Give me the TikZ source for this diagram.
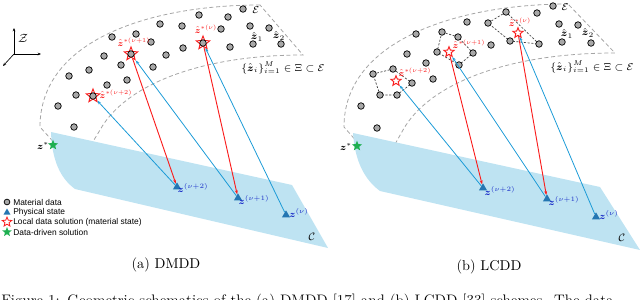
\RequirePackage{fix-cm}
\documentclass[tikz,border=0pt]{standalone}
\usepackage{amsmath,amssymb}
\usepackage{fontspec}
\newfontfamily\legfont{Liberation Sans}
\usetikzlibrary{shapes.geometric,arrows.meta,backgrounds}
\definecolor{planeblue}{RGB}{190,227,242}
\definecolor{triblue}{RGB}{36,118,178}
\definecolor{lineblue}{RGB}{28,155,215}
\definecolor{locred}{RGB}{250,30,30}
\definecolor{ddgreen}{RGB}{30,175,80}
\definecolor{matgray}{RGB}{168,168,168}
\definecolor{regiongray}{RGB}{165,165,165}
\definecolor{labblue}{RGB}{25,45,200}
\begin{document}
\begin{tikzpicture}[x=0.75pt,y=-0.75pt,
  mat/.style={circle,draw=black,fill=matgray,line width=0.55pt,inner sep=0pt,minimum size=4.9pt},
  locstar/.style={star,star points=5,star point ratio=2.3,draw=locred,line width=0.7pt,inner sep=0pt,minimum size=10.5pt},
  locstarS/.style={locstar,fill=white,minimum size=8pt},
  ddstar/.style={star,star points=5,star point ratio=2.3,fill=ddgreen,inner sep=0pt,minimum size=8pt},
  phys/.style={regular polygon,regular polygon sides=3,fill=triblue,inner sep=0pt,minimum size=7pt},
  region/.style={draw=regiongray,line width=0.6pt,dash pattern=on 3pt off 2pt},
  nbpoly/.style={draw=black!75,line width=0.5pt,dash pattern=on 1.6pt off 1.2pt},
  bluearr/.style={draw=lineblue,line width=0.6pt,-{Stealth[length=3pt,width=2.2pt]}},
  redarr/.style={draw=locred,line width=0.7pt,-{Stealth[length=3pt,width=2.2pt]}},
  slab/.style={text=locred,font=\fontsize{6.5}{7}\selectfont,inner sep=0pt},
  plab/.style={text=labblue,font=\fontsize{7}{8}\selectfont,inner sep=0pt},
  mlab/.style={font=\fontsize{7.5}{9}\selectfont,inner sep=0pt},
  legtext/.style={font=\legfont\fontsize{6.3}{7}\selectfont,inner sep=0pt,anchor=west},
  axarr/.style={draw=black,line width=0.5pt,-{Stealth[length=2.5pt,width=2pt]}},
  capt/.style={font=\fontsize{10.7}{12}\selectfont,inner sep=0pt}]
\useasboundingbox (0,0) rectangle (640,300);
\clip (0,0) rectangle (640,300);

% ---------- axis icon ----------
\coordinate (ax0) at (14,54);
\coordinate (axU) at (14,28);
\coordinate (axR) at (41,54);
\coordinate (axD) at (3,66);
\draw[axarr] (ax0) -- (axU);
\draw[axarr] (ax0) -- (axR);
\draw[axarr] (ax0) -- (axD);
\node[font=\fontsize{9}{10}\selectfont,inner sep=0pt] (axZ) at (23,38) {$\mathcal{Z}$};

% ---------- regions E ----------
\draw[region] (260,5) .. controls (150,5) and (40,40) .. (40,127) -- (77,168) -- (100,130)
   .. controls (125,85) and (200,55) .. (303,55) -- cycle;
\draw[region] (568,4) .. controls (458,4) and (344,40) .. (344,127) -- (381,169) -- (403,130)
   .. controls (428,85) and (505,53) .. (615,53) -- cycle;

% ---------- planes C ----------
\fill[planeblue] (51,132) -- (292,185) -- (328,248) -- (75,189) .. controls (60,178) and (52,160) .. (51,132) -- cycle;
\fill[planeblue] (353,133) -- (600,187) -- (640,250) -- (380,191) .. controls (365,180) and (355,162) .. (353,133) -- cycle;

% ---------- left panel: material data ----------
\foreach \x/\y [count=\i] in {199/15,228/17,243/9,160/24,182/26,221/29,250/26,269/28,136/34,112/37,
   151/42,253/44,281/44,183/48,230/47,166/55,104/56,121/65,153/67,89/70,69/76,127/80,107/85,76/95,58/106,74/127}
   {\node[mat] (L\i) at (\x,\y) {};}
% local data solutions (left)
\node[locstar] (sA0) at (203,43) {};
\node[mat] (LsA0) at (203,43) {};
\node[locstar] (sA1) at (131,54) {};
\node[mat] (LsA1) at (131,54) {};
\node[locstar] (sA2) at (93,96) {};
\node[mat] (LsA2) at (93,96) {};
\node[slab] (lsA0) at (206,29) {$\hat{\boldsymbol z}^{*(\nu)}$};
\node[slab] (lsA1) at (134,42) {$\hat{\boldsymbol z}^{*(\nu+1)}$};
\node[slab] (lsA2) at (116,94) {$\hat{\boldsymbol z}^{*(\nu+2)}$};
\node[mlab] (eA) at (256,10) {$\mathcal{E}$};
\node[mlab] (z1A) at (257,37) {$\hat{\boldsymbol z}_1$};
\node[mlab] (z2A) at (279,36) {$\hat{\boldsymbol z}_2$};
\node[mlab] (setA) at (283,68) {$\{\hat{\boldsymbol z}_i\}_{i=1}^{M}\in\Xi\subset\mathcal{E}$};

% physical states (left)
\node[phys] (tA0) at (286,215) {};
\node[phys] (tA1) at (238,198) {};
\node[phys] (tA2) at (177,187) {};
\node[plab] (ltA0) at (299,213) {$\boldsymbol z^{(\nu)}$};
\node[plab] (ltA1) at (254,200) {$\boldsymbol z^{(\nu+1)}$};
\node[plab] (ltA2) at (193,188) {$\boldsymbol z^{(\nu+2)}$};
\node[font=\fontsize{8}{9}\selectfont,inner sep=0pt] (cA) at (312,237) {$\mathcal{C}$};
\node[ddstar] (gA) at (53,145) {};
\node[font=\fontsize{7}{8}\selectfont,inner sep=0pt] (lgA) at (43,146) {$\boldsymbol z^{*}$};

% arrows (left)
\draw[bluearr] (tA2) -- (sA2);
\draw[redarr] (sA1) -- (tA2);
\draw[bluearr] (tA1) -- (sA1);
\draw[redarr] (sA0) -- (tA1);
\draw[bluearr] (tA0) -- (sA0);

% legend
\node[mat,minimum size=4.3pt] (legM) at (7,202) {};
\node[legtext] (legMt) at (13,202) {Material data};
\node[phys,minimum size=6pt] (legP) at (7,212.5) {};
\node[legtext] (legPt) at (13,212) {Physical state};
\node[locstar,minimum size=7.5pt,line width=0.6pt] (legL) at (7,222) {};
\node[legtext] (legLt) at (13,222) {Local data solution (material state)};
\node[ddstar,minimum size=7.5pt] (legD) at (7,232) {};
\node[legtext] (legDt) at (13,232) {Data-driven solution};

% ---------- right panel: material data ----------
\foreach \x/\y [count=\i] in {506/12,537/13,553/6,467/22,488/23,559/24,578/25,510/41,539/44,562/42,
   591/43,491/45,442/32,458/37,473/53,459/65,437/52,416/34,407/54,426/63,433/79,393/69,412/83,397/95,
   380/95,373/74,361/106,377/128}
   {\node[mat] (R\i) at (\x,\y) {};}
\begin{pgfonlayer}{background}
\draw[nbpoly] (R1.center) -- (R5.center) -- (R8.center) -- (R9.center) -- cycle;
\draw[nbpoly] (R13.center) -- (R14.center) -- (R15.center) -- (R16.center) -- (R17.center) -- cycle;
\draw[nbpoly] (R22.center) -- (R23.center) -- (R24.center) -- (R25.center) -- (R26.center) -- cycle;
\end{pgfonlayer}
\node[locstarS] (sB0) at (518,33) {};
\node[locstarS] (sB1) at (449,52) {};
\node[locstarS] (sB2) at (396,81) {};
\node[slab] (lsB0) at (520,22) {$\hat{\boldsymbol z}^{*(\nu)}$};
\node[slab] (lsB1) at (469,44) {$\hat{\boldsymbol z}^{*(\nu+1)}$};
\node[slab] (lsB2) at (415,72) {$\hat{\boldsymbol z}^{*(\nu+2)}$};
\node[mlab] (eB) at (565,7) {$\mathcal{E}$};
\node[mlab] (z1B) at (567,34) {$\hat{\boldsymbol z}_1$};
\node[mlab] (z2B) at (588,33) {$\hat{\boldsymbol z}_2$};
\node[mlab] (setB) at (592,67) {$\{\hat{\boldsymbol z}_i\}_{i=1}^{M}\in\Xi\subset\mathcal{E}$};

% physical states (right)
\node[phys] (tB0) at (596,217) {};
\node[phys] (tB1) at (547,199) {};
\node[phys] (tB2) at (483,188) {};
\node[plab] (ltB0) at (609,215) {$\boldsymbol z^{(\nu)}$};
\node[plab] (ltB1) at (564,201) {$\boldsymbol z^{(\nu+1)}$};
\node[plab] (ltB2) at (500,191) {$\boldsymbol z^{(\nu+2)}$};
\node[font=\fontsize{8}{9}\selectfont,inner sep=0pt] (cB) at (622,238) {$\mathcal{C}$};
\node[ddstar] (gB) at (357,146) {};
\node[font=\fontsize{7}{8}\selectfont,inner sep=0pt] (lgB) at (346,147) {$\boldsymbol z^{*}$};

% arrows (right)
\draw[bluearr] (tB2) -- (sB2);
\draw[redarr] (sB1) -- (tB2);
\draw[bluearr] (tB1) -- (sB1);
\draw[redarr] (sB0) -- (tB1);
\draw[bluearr] (tB0) -- (sB0);

% ---------- captions ----------
\node[capt] (capA) at (166,265) {(a)\ DMDD};
\node[capt] (capB) at (489,267) {(b)\ LCDD};
\node[capt,font=\fontsize{11.4}{13}\selectfont,anchor=base west] (figcap) at (1,305.5) {Figure 1:\enspace Geometric schematics of the (a) DMDD [17] and (b) LCDD [33] schemes.\enspace The data};
\end{tikzpicture}
\end{document}
